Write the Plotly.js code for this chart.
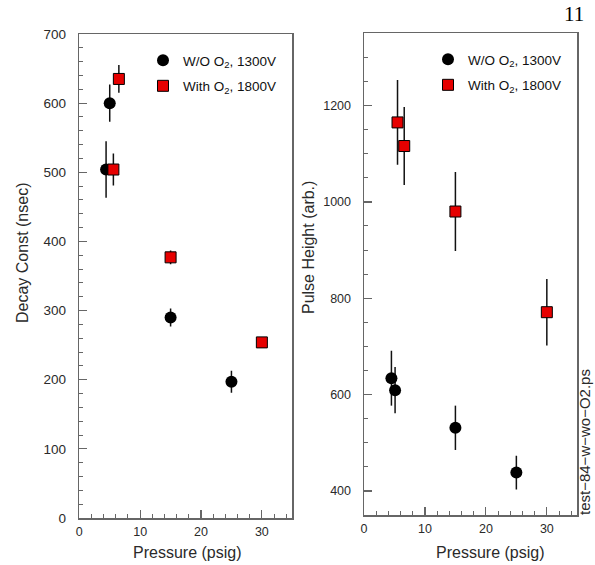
<!DOCTYPE html>
<html>
<head>
<meta charset="utf-8">
<script src="https://cdn.plot.ly/plotly-3.0.1.min.js"></script>
<style>html,body{margin:0;padding:0;background:#fff;}#chart{width:595px;height:565px;}</style>
</head>
<body>
<div id="chart"></div>
<script>
// ---- Data ----
// Left panel: decay constant (nsec) vs pressure (psig)
const decayPressureWo = [4.4, 5.0, 15, 25];
const decayWo        = [504, 600, 290, 197];
const decayWoErr     = [41, 27, 13, 16];
const decayPressureW = [5.6, 6.5, 15, 30];
const decayW         = [504, 635, 377, 254];
const decayWErr      = [23, 20, 10, 5];
// Right panel: pulse height (arb.) vs pressure (psig)
const pulsePressureWo = [4.5, 5.1, 15, 25];
const pulseWo        = [634, 609, 531, 438];
const pulseWoErr     = [57, 48, 46, 35];
const pulsePressureW = [5.5, 6.6, 15, 30];
const pulseW         = [1165, 1116, 980, 771];
const pulseWErr      = [88, 81, 82, 69];
// Labels
const seriesNames = ['W/O O<sub>2</sub>, 1300V', 'With O<sub>2</sub>, 1800V'];
const xTitle = 'Pressure (psig)';
const yTitleLeft = 'Decay Const (nsec)';
const yTitleRight = 'Pulse Height (arb.)';
const pageNumber = '11';
const fileTag = 'test\u221284\u2212w\u2212wo\u2212O2.ps';

const W = 595, H = 565;
const px = v => v / W;
const py = v => (H - v) / H;

const FONT = 'Liberation Sans, Arial, Helvetica, sans-serif';
const TXT = '#2a2a2a';
const FRAME = '#666666';

const circleMarker = {symbol: 'circle', size: 12, color: '#000000', line: {color: '#000', width: 0}};
const squareMarker = {symbol: 'square', size: 11, color: '#e60000', line: {color: '#000000', width: 1}};
const errStyle = arr => ({type: 'data', array: arr, visible: true, color: '#111111', thickness: 1.5, width: 0});

const traces = [
  {x: decayPressureWo, y: decayWo, error_y: errStyle(decayWoErr), mode: 'markers', type: 'scatter',
   marker: circleMarker, name: seriesNames[0], xaxis: 'x', yaxis: 'y', legend: 'legend', legendgroup: 'a'},
  {x: decayPressureW, y: decayW, error_y: errStyle(decayWErr), mode: 'markers', type: 'scatter',
   marker: squareMarker, name: seriesNames[1], xaxis: 'x', yaxis: 'y', legend: 'legend', legendgroup: 'b'},
  {x: pulsePressureWo, y: pulseWo, error_y: errStyle(pulseWoErr), mode: 'markers', type: 'scatter',
   marker: circleMarker, name: seriesNames[0], xaxis: 'x2', yaxis: 'y2', legend: 'legend2', legendgroup: 'c'},
  {x: pulsePressureW, y: pulseW, error_y: errStyle(pulseWErr), mode: 'markers', type: 'scatter',
   marker: squareMarker, name: seriesNames[1], xaxis: 'x2', yaxis: 'y2', legend: 'legend2', legendgroup: 'd'}
];

function xAxis(domain, anchor) {
  return {domain: domain, anchor: anchor, range: [0, 35], dtick: 10, tick0: 0,
    ticks: 'inside', ticklen: 8, tickwidth: 1.2, tickcolor: FRAME,
    minor: {dtick: 2, ticks: 'inside', ticklen: 4, tickwidth: 1, tickcolor: FRAME},
    showline: true, mirror: true, linecolor: FRAME, linewidth: 1.5,
    showgrid: false, zeroline: false, fixedrange: true,
    tickfont: {family: FONT, size: 12.5, color: TXT}, ticklabelstandoff: 1};
}
function yAxis(domain, anchor, range, dtick, minorDtick, fontSize) {
  return {domain: domain, anchor: anchor, range: range, dtick: dtick, tick0: 0,
    ticks: 'inside', ticklen: 8, tickwidth: 1.2, tickcolor: FRAME,
    minor: {dtick: minorDtick, ticks: 'inside', ticklen: 4, tickwidth: 1, tickcolor: FRAME},
    showline: true, mirror: true, linecolor: FRAME, linewidth: 1.5,
    showgrid: false, zeroline: false, fixedrange: true,
    tickfont: {family: FONT, size: fontSize, color: TXT}, ticklabelstandoff: 9};
}

const legendBase = {
  font: {family: FONT, size: 13.5, color: '#111'}, bgcolor: 'rgba(0,0,0,0)', borderwidth: 0,
  xanchor: 'left', yanchor: 'top', tracegroupgap: 5, itemwidth: 30
};

const ann = (text, x, y, size, extra) => Object.assign({
  text: text, xref: 'paper', yref: 'paper', x: px(x), y: py(y), xanchor: 'center', yanchor: 'middle',
  showarrow: false, font: {family: FONT, size: size, color: TXT}}, extra || {});

const layout = {
  width: W, height: H,
  margin: {l: 0, r: 0, t: 0, b: 0},
  paper_bgcolor: '#ffffff', plot_bgcolor: '#ffffff',
  showlegend: true,
  xaxis: xAxis([px(79.3), px(292.3)], 'y'),
  yaxis: yAxis([py(518), py(34)], 'x', [0, 700], 100, 20, 13.5),
  xaxis2: xAxis([px(364), px(577.3)], 'y2'),
  yaxis2: yAxis([py(515), py(33.3)], 'x2', [350, 1350], 200, 50, 12.5),
  legend: Object.assign({}, legendBase, {x: px(143), y: py(45)}),
  legend2: Object.assign({}, legendBase, {x: px(428), y: py(44)}),
  annotations: [
    ann(yTitleLeft, 22, 253, 16, {textangle: -90}),
    ann(yTitleRight, 308, 248, 16, {textangle: -90}),
    ann(xTitle, 187, 552, 16),
    ann(xTitle, 490, 552, 16),
    ann(pageNumber, 574, 14, 21, {font: {family: 'Liberation Serif, Times New Roman, serif', size: 21, color: '#000'}}),
    ann(fileTag, 584, 442, 15, {textangle: -90})
  ]
};

Plotly.newPlot('chart', traces, layout, {staticPlot: true, displayModeBar: false});
</script>
</body>
</html>
